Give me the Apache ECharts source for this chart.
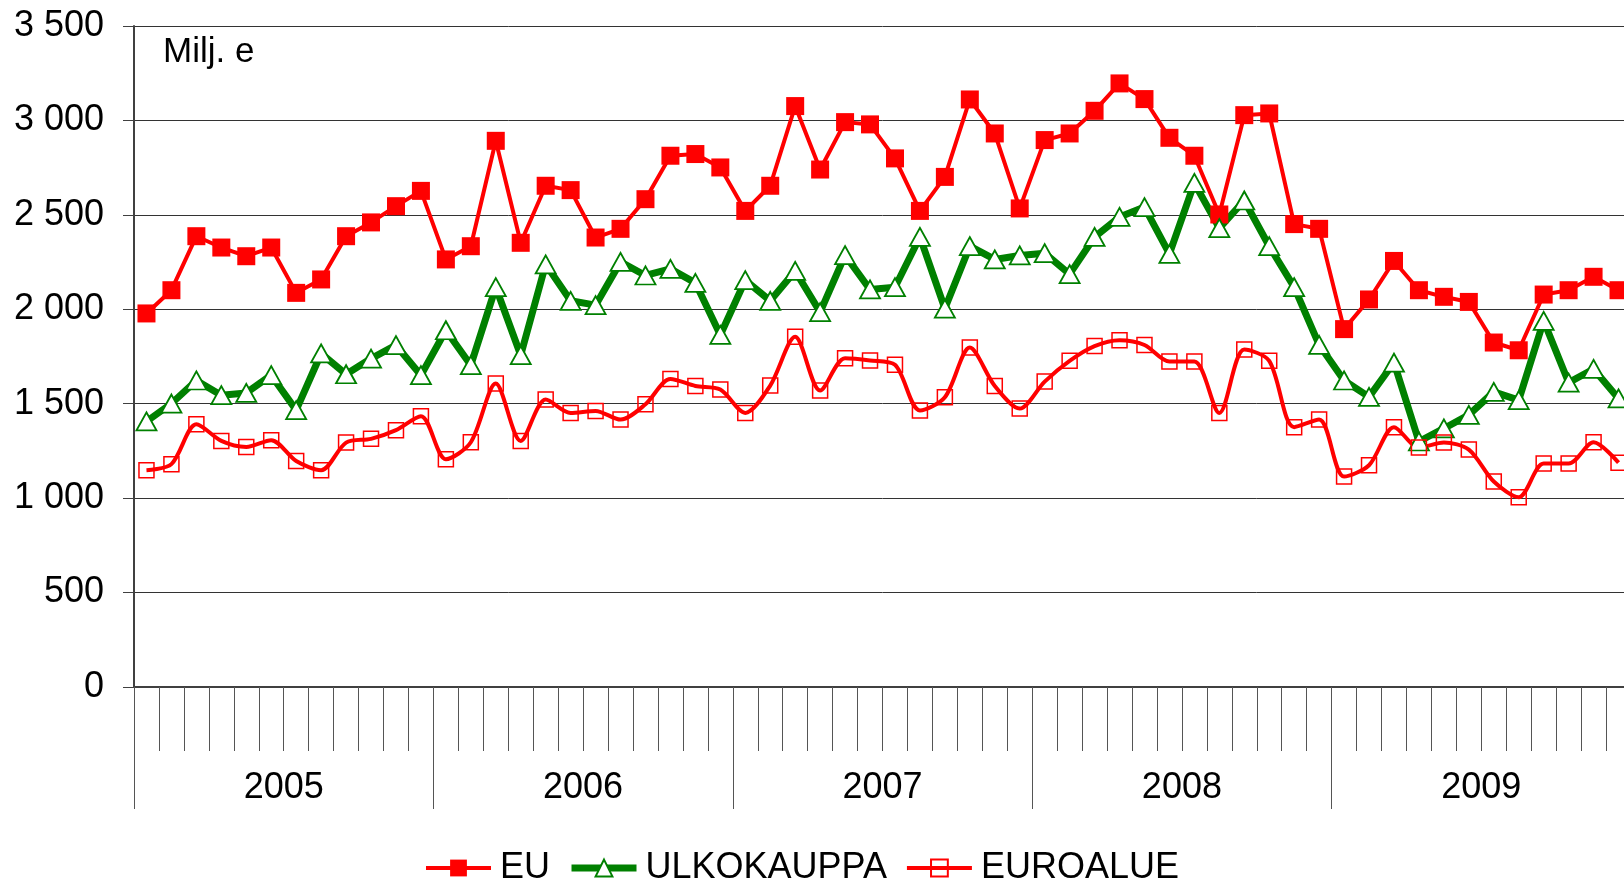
<!DOCTYPE html>
<html>
<head>
<meta charset="utf-8">
<script src="https://cdn.jsdelivr.net/npm/echarts/dist/echarts.min.js"></script>
<style>
  html, body { margin: 0; padding: 0; background: #fff; overflow: hidden; }
  /* plot runs a little past the right edge, like the cropped original */
  #chart { width: 1640px; height: 880px; }
</style>
</head>
<body>
<div id="chart"></div>
<script>
const years = ['2005', '2006', '2007', '2008', '2009'];
const months = [];
years.forEach(y => {
  for (let m = 1; m <= 12; m++) months.push(y + '-' + (m < 10 ? '0' + m : m));
});

const yTicks = [0, 500, 1000, 1500, 2000, 2500, 3000, 3500];

const eu = [1978, 2101, 2387, 2327, 2281, 2327, 2087, 2158, 2387, 2460, 2546, 2627,
  2264, 2334, 2892, 2352, 2654, 2631, 2380, 2426, 2583, 2813, 2822, 2751,
  2521, 2654, 3076, 2740, 2991, 2979, 2799, 2521, 2701, 3111, 2931, 2534,
  2896, 2931, 3051, 3196, 3113, 2908, 2813, 2502, 3028, 3037, 2451, 2426,
  1895, 2052, 2256, 2101, 2066, 2039, 1824, 1783, 2078, 2101, 2172, 2101];

const ulkokauppa = [1406, 1501, 1623, 1545, 1557, 1651, 1466, 1766, 1656, 1739, 1810, 1651,
  1889, 1704, 2117, 1757, 2238, 2045, 2022, 2251, 2179, 2214, 2140, 1864,
  2154, 2045, 2203, 1985, 2287, 2105, 2117, 2383, 2004, 2334, 2264, 2285,
  2297, 2186, 2383, 2489, 2541, 2293, 2669, 2430, 2576, 2334, 2117, 1812,
  1623, 1536, 1718, 1300, 1369, 1441, 1563, 1519, 1939, 1612, 1684, 1528];

const euroalue = [1148, 1180, 1391, 1303, 1271, 1307, 1197, 1148, 1294, 1314, 1360, 1434,
  1206, 1296, 1607, 1303, 1522, 1451, 1462, 1416, 1497, 1631, 1594, 1575,
  1451, 1596, 1854, 1570, 1741, 1729, 1706, 1464, 1534, 1797, 1594, 1474,
  1617, 1727, 1805, 1836, 1811, 1723, 1723, 1451, 1787, 1727, 1376, 1416,
  1114, 1174, 1376, 1268, 1294, 1257, 1088, 1005, 1183, 1183, 1296, 1188];

const font = 'Liberation Sans, Arial, sans-serif';
const red = '#ff0000';
const green = '#008000';

const chart = echarts.init(document.getElementById('chart'));
chart.setOption({
  animation: false,
  textStyle: { fontFamily: font },
  grid: { left: 134, right: 9, top: 26, bottom: 193 },
  graphic: [{
    type: 'text',
    left: 163,
    top: 35,
    style: { text: 'Milj. e', font: '35px ' + font, fill: '#000' }
  }],
  legend: {
    left: 419,
    top: 845,
    itemWidth: 65,
    itemHeight: 21,
    itemGap: 18,
    lineStyle: { width: 'inherit' },
    textStyle: { fontSize: 36, color: '#000', lineHeight: 36, padding: [0, 0, 0, 4] },
    data: ['EU', 'ULKOKAUPPA', 'EUROALUE']
  },
  xAxis: [{
    type: 'category',
    data: months,
    boundaryGap: true,
    axisLine: { show: true, lineStyle: { color: '#404040', width: 2 } },
    axisTick: { show: true, interval: 0, length: 64, lineStyle: { color: '#555', width: 1 } },
    axisLabel: { show: false },
    splitLine: { show: false }
  }, {
    type: 'category',
    data: years,
    position: 'bottom',
    boundaryGap: true,
    axisLine: { show: false },
    axisTick: { show: true, interval: 0, length: 122, lineStyle: { color: '#555', width: 1 } },
    axisLabel: { show: true, interval: 0, margin: 83, fontSize: 36, color: '#000' },
    splitLine: { show: false }
  }],
  yAxis: {
    type: 'value',
    min: yTicks[0],
    max: yTicks[yTicks.length - 1],
    interval: 500,
    axisLine: { show: true, lineStyle: { color: '#404040', width: 2 } },
    axisTick: { show: true, length: 11, lineStyle: { color: '#404040' } },
    axisLabel: {
      margin: 30,
      fontSize: 36,
      color: '#000',
      formatter: v => String(v).replace(/\B(?=(\d{3})+(?!\d))/g, ' ')
    },
    splitLine: { lineStyle: { color: '#333', width: 1 } }
  },
  series: [{
    name: 'EU',
    type: 'line',
    data: eu,
    symbol: 'rect',
    symbolSize: 18,
    showAllSymbol: true,
    lineStyle: { color: red, width: 4 },
    itemStyle: { color: red }
  }, {
    name: 'ULKOKAUPPA',
    type: 'line',
    data: ulkokauppa,
    symbol: 'triangle',
    symbolSize: [20, 18],
    showAllSymbol: true,
    lineStyle: { color: green, width: 7 },
    itemStyle: { color: '#fff', borderColor: green, borderWidth: 1.8 }
  }, {
    name: 'EUROALUE',
    type: 'line',
    data: euroalue,
    smooth: 0.3,
    symbol: 'rect',
    symbolSize: 15,
    showAllSymbol: true,
    lineStyle: { color: red, width: 4 },
    itemStyle: { color: 'rgba(255,255,255,0)', borderColor: red, borderWidth: 1.5 }
  }]
});
</script>
</body>
</html>
